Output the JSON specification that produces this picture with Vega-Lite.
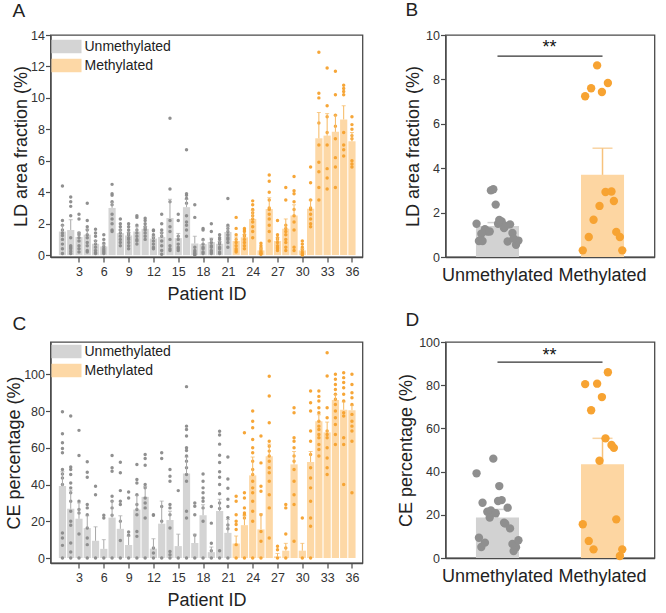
{
"$schema":"https://vega.github.io/schema/vega-lite/v6.json",
"background":"white",
"padding":{"left":4.5,"top":0,"right":5,"bottom":5},
"config":{
 "font":"Liberation Sans",
 "view":{"stroke":"#4a4a4a","strokeWidth":1.3},
 "axis":{"domainColor":"#4a4a4a","domainWidth":1.3,"tickColor":"#4a4a4a","tickSize":5,"tickWidth":1.2,"tickCount":50,"grid":false,"labelFont":"Liberation Sans","labelFontSize":12.5,"labelColor":"#333","labelFlush":false,"labelOverlap":false,"labelPadding":1,"titleFont":"Liberation Sans","titleFontSize":18,"titleFontWeight":"normal","titleColor":"#222"},
 "title":{"fontSize":19,"fontWeight":"normal","anchor":"start","frame":"group","color":"#222","baseline":"alphabetic","font":"Liberation Sans"},
 "legend":{"labelFont":"Liberation Sans","labelFontSize":14,"labelColor":"#222"}
},
"datasets":{
"la":[
{"p":1,"g":"Unmethylated","m":1.5,"hi":1.9},{"p":2,"g":"Unmethylated","m":1.6,"hi":2.25},{"p":3,"g":"Unmethylated","m":1.15,"hi":1.45},{"p":4,"g":"Unmethylated","m":1.3,"hi":1.65},{"p":5,"g":"Unmethylated","m":0.72,"hi":0.92},{"p":6,"g":"Unmethylated","m":0.55,"hi":0.7},{"p":7,"g":"Unmethylated","m":3.0,"hi":3.35},{"p":8,"g":"Unmethylated","m":1.4,"hi":1.6},{"p":9,"g":"Unmethylated","m":1.25,"hi":1.45},{"p":10,"g":"Unmethylated","m":1.5,"hi":1.8},{"p":11,"g":"Unmethylated","m":1.67,"hi":1.82},{"p":12,"g":"Unmethylated","m":1.05,"hi":1.2},{"p":13,"g":"Unmethylated","m":1.15,"hi":1.45},{"p":14,"g":"Unmethylated","m":2.36,"hi":3.55},{"p":15,"g":"Unmethylated","m":1.08,"hi":1.38},{"p":16,"g":"Unmethylated","m":3.05,"hi":3.55},{"p":17,"g":"Unmethylated","m":0.74,"hi":1.2},{"p":18,"g":"Unmethylated","m":0.7,"hi":0.95},{"p":19,"g":"Unmethylated","m":0.83,"hi":1.08},{"p":20,"g":"Unmethylated","m":0.72,"hi":0.87},{"p":21,"g":"Unmethylated","m":1.47,"hi":1.82},
{"p":22,"g":"Methylated","m":0.9,"hi":1.15},{"p":23,"g":"Methylated","m":1.13,"hi":1.3},{"p":24,"g":"Methylated","m":2.3,"hi":2.85},{"p":25,"g":"Methylated","m":0.3,"hi":0.45},{"p":26,"g":"Methylated","m":2.93,"hi":3.65},{"p":27,"g":"Methylated","m":0.9,"hi":1.1},{"p":28,"g":"Methylated","m":1.68,"hi":2.3},{"p":29,"g":"Methylated","m":2.52,"hi":3.2},{"p":30,"g":"Methylated","m":0.3,"hi":0.4},{"p":31,"g":"Methylated","m":2.95,"hi":3.5},{"p":32,"g":"Methylated","m":7.43,"hi":9.07},{"p":33,"g":"Methylated","m":7.6,"hi":9.0},{"p":34,"g":"Methylated","m":7.84,"hi":8.9},{"p":35,"g":"Methylated","m":8.63,"hi":9.5},{"p":36,"g":"Methylated","m":7.24,"hi":7.8}
],
"lp":[
{"p":1,"v":4.4},{"p":1,"v":2.2},{"p":1,"v":1.9},{"p":1,"v":1.6},{"p":1,"v":1.4},{"p":1,"v":1.25},{"p":1,"v":1.0},{"p":1,"v":0.7},{"p":1,"v":0.4},{"p":1,"v":0.1},
{"p":2,"v":3.7},{"p":2,"v":3.4},{"p":2,"v":3.1},{"p":2,"v":2.5},{"p":2,"v":1.1},{"p":2,"v":0.6},{"p":2,"v":0.5},{"p":2,"v":0.4},{"p":2,"v":0.25},{"p":2,"v":0.1},
{"p":3,"v":2.6},{"p":3,"v":2.3},{"p":3,"v":1.4},{"p":3,"v":1.3},{"p":3,"v":1.1},{"p":3,"v":0.9},{"p":3,"v":0.6},{"p":3,"v":0.4},{"p":3,"v":0.2},
{"p":4,"v":3.3},{"p":4,"v":2.2},{"p":4,"v":1.8},{"p":4,"v":1.6},{"p":4,"v":1.3},{"p":4,"v":1.1},{"p":4,"v":0.8},{"p":4,"v":0.6},{"p":4,"v":0.3},{"p":4,"v":0.2},
{"p":5,"v":1.65},{"p":5,"v":1.4},{"p":5,"v":1.2},{"p":5,"v":0.9},{"p":5,"v":0.7},{"p":5,"v":0.5},{"p":5,"v":0.3},{"p":5,"v":0.15},{"p":5,"v":0.1},
{"p":6,"v":1.3},{"p":6,"v":1.0},{"p":6,"v":0.75},{"p":6,"v":0.55},{"p":6,"v":0.4},{"p":6,"v":0.3},{"p":6,"v":0.2},{"p":6,"v":0.1},
{"p":7,"v":4.5},{"p":7,"v":3.9},{"p":7,"v":3.8},{"p":7,"v":3.4},{"p":7,"v":3.2},{"p":7,"v":2.6},{"p":7,"v":2.3},{"p":7,"v":2.0},{"p":7,"v":1.6},{"p":7,"v":1.5},
{"p":8,"v":2.3},{"p":8,"v":2.0},{"p":8,"v":1.8},{"p":8,"v":1.6},{"p":8,"v":1.4},{"p":8,"v":1.2},{"p":8,"v":1.0},{"p":8,"v":0.8},{"p":8,"v":0.6},
{"p":9,"v":2.0},{"p":9,"v":1.8},{"p":9,"v":1.6},{"p":9,"v":1.4},{"p":9,"v":1.3},{"p":9,"v":1.1},{"p":9,"v":1.0},{"p":9,"v":0.8},{"p":9,"v":0.6},{"p":9,"v":0.4},
{"p":10,"v":2.5},{"p":10,"v":2.4},{"p":10,"v":1.9},{"p":10,"v":1.6},{"p":10,"v":1.4},{"p":10,"v":1.2},{"p":10,"v":1.0},{"p":10,"v":0.9},{"p":10,"v":0.7},
{"p":11,"v":2.35},{"p":11,"v":2.2},{"p":11,"v":2.0},{"p":11,"v":1.8},{"p":11,"v":1.7},{"p":11,"v":1.6},{"p":11,"v":1.4},{"p":11,"v":1.2},{"p":11,"v":1.0},
{"p":12,"v":1.6},{"p":12,"v":1.55},{"p":12,"v":1.3},{"p":12,"v":1.1},{"p":12,"v":0.9},{"p":12,"v":0.7},{"p":12,"v":0.5},{"p":12,"v":0.4},
{"p":13,"v":2.6},{"p":13,"v":2.0},{"p":13,"v":1.6},{"p":13,"v":1.4},{"p":13,"v":1.2},{"p":13,"v":0.9},{"p":13,"v":0.6},{"p":13,"v":0.3},{"p":13,"v":0.05},
{"p":14,"v":8.7},{"p":14,"v":4.2},{"p":14,"v":3.4},{"p":14,"v":2.2},{"p":14,"v":1.8},{"p":14,"v":1.5},{"p":14,"v":1.0},{"p":14,"v":0.6},{"p":14,"v":0.4},{"p":14,"v":0.3},
{"p":15,"v":2.6},{"p":15,"v":2.2},{"p":15,"v":1.2},{"p":15,"v":1.0},{"p":15,"v":0.7},{"p":15,"v":0.5},{"p":15,"v":0.4},{"p":15,"v":0.3},
{"p":16,"v":6.7},{"p":16,"v":3.9},{"p":16,"v":3.8},{"p":16,"v":3.6},{"p":16,"v":3.3},{"p":16,"v":2.5},{"p":16,"v":2.1},{"p":16,"v":1.9},{"p":16,"v":1.6},{"p":16,"v":1.2},
{"p":17,"v":3.2},{"p":17,"v":2.4},{"p":17,"v":0.5},{"p":17,"v":0.3},{"p":17,"v":0.2},{"p":17,"v":0.1},{"p":17,"v":0.05},{"p":17,"v":0},
{"p":18,"v":1.7},{"p":18,"v":1.6},{"p":18,"v":1.0},{"p":18,"v":0.7},{"p":18,"v":0.5},{"p":18,"v":0.4},{"p":18,"v":0.2},{"p":18,"v":0.1},
{"p":19,"v":2.0},{"p":19,"v":1.5},{"p":19,"v":1.0},{"p":19,"v":0.8},{"p":19,"v":0.6},{"p":19,"v":0.5},{"p":19,"v":0.3},{"p":19,"v":0.2},{"p":19,"v":0.1},
{"p":20,"v":1.3},{"p":20,"v":1.1},{"p":20,"v":1.0},{"p":20,"v":0.8},{"p":20,"v":0.7},{"p":20,"v":0.5},{"p":20,"v":0.4},{"p":20,"v":0.2},{"p":20,"v":0.1},
{"p":21,"v":3.6},{"p":21,"v":1.9},{"p":21,"v":1.7},{"p":21,"v":1.5},{"p":21,"v":1.3},{"p":21,"v":1.1},{"p":21,"v":1.0},{"p":21,"v":0.8},{"p":21,"v":0.5},
{"p":22,"v":2.4},{"p":22,"v":1.7},{"p":22,"v":1.3},{"p":22,"v":1.0},{"p":22,"v":0.8},{"p":22,"v":0.6},{"p":22,"v":0.4},{"p":22,"v":0.3},{"p":22,"v":0.2},
{"p":23,"v":1.7},{"p":23,"v":1.6},{"p":23,"v":1.5},{"p":23,"v":1.3},{"p":23,"v":1.2},{"p":23,"v":1.0},{"p":23,"v":0.8},{"p":23,"v":0.6},{"p":23,"v":0.4},
{"p":24,"v":3.45},{"p":24,"v":3.2},{"p":24,"v":2.9},{"p":24,"v":2.7},{"p":24,"v":2.5},{"p":24,"v":2.3},{"p":24,"v":2.1},{"p":24,"v":1.8},{"p":24,"v":1.5},{"p":24,"v":1.1},
{"p":25,"v":0.75},{"p":25,"v":0.6},{"p":25,"v":0.45},{"p":25,"v":0.35},{"p":25,"v":0.25},{"p":25,"v":0.15},{"p":25,"v":0.1},{"p":25,"v":0.05},
{"p":26,"v":5.1},{"p":26,"v":4.7},{"p":26,"v":4.0},{"p":26,"v":3.5},{"p":26,"v":3.0},{"p":26,"v":2.9},{"p":26,"v":2.6},{"p":26,"v":2.3},{"p":26,"v":1.9},{"p":26,"v":1.5},{"p":26,"v":0.9},
{"p":27,"v":2.2},{"p":27,"v":1.3},{"p":27,"v":1.1},{"p":27,"v":1.0},{"p":27,"v":0.8},{"p":27,"v":0.6},{"p":27,"v":0.5},{"p":27,"v":0.4},{"p":27,"v":0.3},
{"p":28,"v":4.3},{"p":28,"v":3.5},{"p":28,"v":1.9},{"p":28,"v":1.7},{"p":28,"v":1.5},{"p":28,"v":1.3},{"p":28,"v":1.0},{"p":28,"v":0.8},{"p":28,"v":0.5},{"p":28,"v":0.3},
{"p":29,"v":5.0},{"p":29,"v":4.1},{"p":29,"v":3.9},{"p":29,"v":3.4},{"p":29,"v":2.9},{"p":29,"v":2.5},{"p":29,"v":2.1},{"p":29,"v":1.6},{"p":29,"v":0.5},{"p":29,"v":0.3},
{"p":30,"v":0.9},{"p":30,"v":0.7},{"p":30,"v":0.5},{"p":30,"v":0.35},{"p":30,"v":0.2},{"p":30,"v":0.1},{"p":30,"v":0.05},{"p":30,"v":0},
{"p":31,"v":5.6},{"p":31,"v":4.6},{"p":31,"v":3.5},{"p":31,"v":3.0},{"p":31,"v":2.9},{"p":31,"v":2.6},{"p":31,"v":2.3},{"p":31,"v":2.0},{"p":31,"v":1.8},
{"p":32,"v":12.9},{"p":32,"v":10.3},{"p":32,"v":10.0},{"p":32,"v":8.4},{"p":32,"v":7.0},{"p":32,"v":5.9},{"p":32,"v":5.3},{"p":32,"v":4.3},{"p":32,"v":3.5},
{"p":33,"v":11.9},{"p":33,"v":9.5},{"p":33,"v":8.8},{"p":33,"v":7.8},{"p":33,"v":7.0},{"p":33,"v":5.5},{"p":33,"v":4.9},{"p":33,"v":4.2},
{"p":34,"v":11.7},{"p":34,"v":10.2},{"p":34,"v":8.9},{"p":34,"v":8.2},{"p":34,"v":7.4},{"p":34,"v":6.2},{"p":34,"v":5.6},{"p":34,"v":4.3},
{"p":35,"v":10.8},{"p":35,"v":10.6},{"p":35,"v":10.4},{"p":35,"v":10.2},{"p":35,"v":7.8},{"p":35,"v":7.0},{"p":35,"v":6.7},{"p":35,"v":6.3},
{"p":36,"v":8.8},{"p":36,"v":8.3},{"p":36,"v":8.0},{"p":36,"v":7.6},{"p":36,"v":7.4},{"p":36,"v":6.0},{"p":36,"v":5.8},{"p":36,"v":5.6}
],
"bs":[{"g":"Unmethylated","m":1.4,"hi":1.55},{"g":"Methylated","m":3.7,"hi":4.9}],
"sig1":[{"a":"Unmethylated","b":"Methylated","y":9.05,"ty":9.4,"t":"**"}],
"ca":[
{"p":1,"g":"Unmethylated","m":39.2,"hi":47},{"p":2,"g":"Unmethylated","m":26.8,"hi":37},{"p":3,"g":"Unmethylated","m":21.4,"hi":30},{"p":4,"g":"Unmethylated","m":16.3,"hi":23},{"p":5,"g":"Unmethylated","m":9.4,"hi":17},{"p":6,"g":"Unmethylated","m":5,"hi":10},{"p":7,"g":"Unmethylated","m":22,"hi":31},{"p":8,"g":"Unmethylated","m":15.9,"hi":23},{"p":9,"g":"Unmethylated","m":7.1,"hi":12},{"p":10,"g":"Unmethylated","m":26.4,"hi":34},{"p":11,"g":"Unmethylated","m":33.3,"hi":39},{"p":12,"g":"Unmethylated","m":5.1,"hi":10.5},{"p":13,"g":"Unmethylated","m":18.7,"hi":31},{"p":14,"g":"Unmethylated","m":20.7,"hi":25.5},{"p":15,"g":"Unmethylated","m":6.5,"hi":13},{"p":16,"g":"Unmethylated","m":46,"hi":55},{"p":17,"g":"Unmethylated","m":8.2,"hi":13},{"p":18,"g":"Unmethylated","m":23.3,"hi":29},{"p":19,"g":"Unmethylated","m":3.2,"hi":6},{"p":20,"g":"Unmethylated","m":25.6,"hi":32},{"p":21,"g":"Unmethylated","m":13.7,"hi":21},
{"p":22,"g":"Methylated","m":7.9,"hi":12},{"p":23,"g":"Methylated","m":17.9,"hi":23},{"p":24,"g":"Methylated","m":45,"hi":55},{"p":25,"g":"Methylated","m":15.6,"hi":24},{"p":26,"g":"Methylated","m":55.4,"hi":62},{"p":27,"g":"Methylated","m":0.9,"hi":2.5},{"p":28,"g":"Methylated","m":4,"hi":8},{"p":29,"g":"Methylated","m":51,"hi":58},{"p":30,"g":"Methylated","m":4,"hi":8},{"p":31,"g":"Methylated","m":52.3,"hi":58},{"p":32,"g":"Methylated","m":74.5,"hi":78},{"p":33,"g":"Methylated","m":68.4,"hi":74},{"p":34,"g":"Methylated","m":86,"hi":89},{"p":35,"g":"Methylated","m":80.7,"hi":85},{"p":36,"g":"Methylated","m":80.5,"hi":83}
],
"cp":[
{"p":1,"v":79.6},{"p":1,"v":67.6},{"p":1,"v":62.7},{"p":1,"v":59.6},{"p":1,"v":57.3},{"p":1,"v":48.2},{"p":1,"v":45.8},{"p":1,"v":43.6},{"p":1,"v":40},{"p":1,"v":13.6},{"p":1,"v":10.9},{"p":1,"v":6.9},{"p":1,"v":0},
{"p":2,"v":77.3},{"p":2,"v":49.5},{"p":2,"v":48.2},{"p":2,"v":45.5},{"p":2,"v":40.9},{"p":2,"v":38.2},{"p":2,"v":35.5},{"p":2,"v":30.9},{"p":2,"v":25.5},{"p":2,"v":20},{"p":2,"v":17.8},{"p":2,"v":8.2},{"p":2,"v":3.3},{"p":2,"v":0},
{"p":3,"v":69.5},{"p":3,"v":55.8},{"p":3,"v":30.9},{"p":3,"v":26.4},{"p":3,"v":24.5},{"p":3,"v":13.1},{"p":3,"v":0},
{"p":4,"v":52.4},{"p":4,"v":46.7},{"p":4,"v":44},{"p":4,"v":29.1},{"p":4,"v":27.3},{"p":4,"v":23.6},{"p":4,"v":16.4},{"p":4,"v":10.9},{"p":4,"v":7.3},{"p":4,"v":0},
{"p":5,"v":39.1},{"p":5,"v":34.5},{"p":5,"v":0},
{"p":6,"v":23.3},{"p":6,"v":21.8},{"p":6,"v":0},
{"p":7,"v":55.8},{"p":7,"v":49.1},{"p":7,"v":47.3},{"p":7,"v":33.6},{"p":7,"v":30.9},{"p":7,"v":27.3},{"p":7,"v":23.3},{"p":7,"v":0},
{"p":8,"v":52.2},{"p":8,"v":46.4},{"p":8,"v":36.7},{"p":8,"v":30.9},{"p":8,"v":29.1},{"p":8,"v":20},{"p":8,"v":9.6},{"p":8,"v":0},
{"p":9,"v":36},{"p":9,"v":32.7},{"p":9,"v":14.2},{"p":9,"v":12.4},{"p":9,"v":0},
{"p":10,"v":50.9},{"p":10,"v":42.7},{"p":10,"v":40.9},{"p":10,"v":34.5},{"p":10,"v":29.1},{"p":10,"v":26.4},{"p":10,"v":23.6},{"p":10,"v":14.5},{"p":10,"v":11.8},{"p":10,"v":0},
{"p":11,"v":56.4},{"p":11,"v":54.2},{"p":11,"v":50.5},{"p":11,"v":40},{"p":11,"v":38.2},{"p":11,"v":32.7},{"p":11,"v":30},{"p":11,"v":27.3},{"p":11,"v":21.8},{"p":11,"v":0},
{"p":12,"v":23.6},{"p":12,"v":23.3},{"p":12,"v":5.5},{"p":12,"v":2.7},{"p":12,"v":0},
{"p":13,"v":57.3},{"p":13,"v":54.2},{"p":13,"v":28},{"p":13,"v":20},{"p":13,"v":0},
{"p":14,"v":48.2},{"p":14,"v":44.5},{"p":14,"v":41.8},{"p":14,"v":29.1},{"p":14,"v":27.3},{"p":14,"v":23.6},{"p":14,"v":16.4},{"p":14,"v":3.6},{"p":14,"v":1.8},{"p":14,"v":0},
{"p":15,"v":36.7},{"p":15,"v":0},
{"p":16,"v":93.3},{"p":16,"v":71.8},{"p":16,"v":70},{"p":16,"v":66.4},{"p":16,"v":60},{"p":16,"v":58.5},{"p":16,"v":55.5},{"p":16,"v":52.7},{"p":16,"v":49.1},{"p":16,"v":45.5},{"p":16,"v":41.8},{"p":16,"v":25.5},{"p":16,"v":21.8},{"p":16,"v":0},
{"p":17,"v":30},{"p":17,"v":28.2},{"p":17,"v":23.6},{"p":17,"v":12.4},{"p":17,"v":0},
{"p":18,"v":45.8},{"p":18,"v":41.8},{"p":18,"v":38.2},{"p":18,"v":35.5},{"p":18,"v":32.7},{"p":18,"v":30.9},{"p":18,"v":27.3},{"p":18,"v":20},{"p":18,"v":0},
{"p":19,"v":28},{"p":19,"v":19},{"p":19,"v":8},{"p":19,"v":4},{"p":19,"v":0},
{"p":20,"v":69},{"p":20,"v":67},{"p":20,"v":62},{"p":20,"v":56},{"p":20,"v":52},{"p":20,"v":47},{"p":20,"v":44},{"p":20,"v":40},{"p":20,"v":35},{"p":20,"v":30},{"p":20,"v":27},{"p":20,"v":4},{"p":20,"v":0},
{"p":21,"v":55},{"p":21,"v":43},{"p":21,"v":38},{"p":21,"v":32},{"p":21,"v":28},{"p":21,"v":22},{"p":21,"v":18},{"p":21,"v":16},{"p":21,"v":0},
{"p":22,"v":33.6},{"p":22,"v":30.9},{"p":22,"v":23.6},{"p":22,"v":20},{"p":22,"v":18.2},{"p":22,"v":15.5},{"p":22,"v":7.3},{"p":22,"v":0},
{"p":23,"v":68.2},{"p":23,"v":35.5},{"p":23,"v":32.7},{"p":23,"v":27.3},{"p":23,"v":24.5},{"p":23,"v":23.6},{"p":23,"v":21.8},{"p":23,"v":0},
{"p":24,"v":80},{"p":24,"v":74.5},{"p":24,"v":70.9},{"p":24,"v":64.5},{"p":24,"v":60},{"p":24,"v":57.3},{"p":24,"v":52.7},{"p":24,"v":48.2},{"p":24,"v":45.5},{"p":24,"v":41.8},{"p":24,"v":38.2},{"p":24,"v":35.5},{"p":24,"v":30.9},{"p":24,"v":25.5},{"p":24,"v":20},{"p":24,"v":0},
{"p":25,"v":66.4},{"p":25,"v":51.8},{"p":25,"v":39.1},{"p":25,"v":36.4},{"p":25,"v":23.6},{"p":25,"v":14.5},{"p":25,"v":9.1},{"p":25,"v":0},
{"p":26,"v":99},{"p":26,"v":88.2},{"p":26,"v":73.6},{"p":26,"v":63.6},{"p":26,"v":60.9},{"p":26,"v":58.2},{"p":26,"v":55.5},{"p":26,"v":52.7},{"p":26,"v":49.1},{"p":26,"v":46.4},{"p":26,"v":41.8},{"p":26,"v":34.5},{"p":26,"v":27.3},{"p":26,"v":10.9},
{"p":27,"v":6.4},{"p":27,"v":4.5},{"p":27,"v":0},
{"p":28,"v":29.1},{"p":28,"v":27.3},{"p":28,"v":13.1},{"p":28,"v":5.5},{"p":28,"v":0},
{"p":29,"v":81.8},{"p":29,"v":79.1},{"p":29,"v":65.5},{"p":29,"v":63.6},{"p":29,"v":60},{"p":29,"v":55.5},{"p":29,"v":52.7},{"p":29,"v":48.2},{"p":29,"v":41.8},{"p":29,"v":34.5},{"p":29,"v":29.1},{"p":29,"v":9.1},
{"p":30,"v":21.8},{"p":30,"v":0},
{"p":31,"v":90.9},{"p":31,"v":84.5},{"p":31,"v":80},{"p":31,"v":69.1},{"p":31,"v":63.6},{"p":31,"v":56.4},{"p":31,"v":49.1},{"p":31,"v":43.6},{"p":31,"v":38.2},{"p":31,"v":30.9},{"p":31,"v":21.8},{"p":31,"v":17.3},{"p":31,"v":0},
{"p":32,"v":90.9},{"p":32,"v":88},{"p":32,"v":85.5},{"p":32,"v":81.8},{"p":32,"v":79.1},{"p":32,"v":74.5},{"p":32,"v":71.8},{"p":32,"v":70},{"p":32,"v":67.3},{"p":32,"v":65.5},{"p":32,"v":61.8},{"p":32,"v":59.1},{"p":32,"v":55.5},
{"p":33,"v":111.8},{"p":33,"v":99.1},{"p":33,"v":81.8},{"p":33,"v":76.4},{"p":33,"v":69.1},{"p":33,"v":67.3},{"p":33,"v":65.5},{"p":33,"v":60},{"p":33,"v":54.5},{"p":33,"v":49.1},{"p":33,"v":45.5},
{"p":34,"v":100},{"p":34,"v":97.3},{"p":34,"v":94.5},{"p":34,"v":91.8},{"p":34,"v":89.1},{"p":34,"v":86.4},{"p":34,"v":83.6},{"p":34,"v":80},{"p":34,"v":76.4},{"p":34,"v":72.7},{"p":34,"v":67.3},{"p":34,"v":61.8},
{"p":35,"v":100.9},{"p":35,"v":98.2},{"p":35,"v":95.5},{"p":35,"v":92.7},{"p":35,"v":89.1},{"p":35,"v":85.5},{"p":35,"v":79.1},{"p":35,"v":77.3},{"p":35,"v":65.5},{"p":35,"v":61.8},{"p":35,"v":40},
{"p":36,"v":100},{"p":36,"v":94.5},{"p":36,"v":90},{"p":36,"v":87.3},{"p":36,"v":83.6},{"p":36,"v":78.2},{"p":36,"v":74.5},{"p":36,"v":71.8},{"p":36,"v":69.1},{"p":36,"v":63.6},{"p":36,"v":35.5}
],
"ds":[{"g":"Unmethylated","m":18.7,"hi":22.5},{"g":"Methylated","m":43.4,"hi":55.4}],
"sig2":[{"a":"Unmethylated","b":"Methylated","y":90.7,"ty":93.5,"t":"**"}]
},
"columns":2,
"spacing":{"column":83,"row":85},
"bounds":"flush",
"resolve":{"scale":{"color":"independent"},"legend":{"color":"independent"}},
"concat":[
{
 "width":312,"height":222,
 "title":{"text":"A","dx":-38,"offset":8},
 "layer":[
  {"data":{"name":"la"},"mark":{"type":"bar","size":7.2},
   "encoding":{
    "x":{"field":"p","type":"quantitative","scale":{"domain":[0.16,36.67],"nice":false,"zero":false},"axis":{"values":[3,6,9,12,15,18,21,24,27,30,33,36],"format":"d","title":"Patient ID","labelPadding":3,"titlePadding":8}},
    "y":{"field":"m","type":"quantitative","scale":{"domain":[-0.12,14],"nice":false,"zero":false},"axis":{"values":[0,2,4,6,8,10,12,14],"format":"d","title":"LD area fraction (%)","titlePadding":0}},
    "y2":{"datum":0},
    "color":{"field":"g","type":"nominal","scale":{"domain":["Unmethylated","Methylated"],"range":["#d4d4d4","#fdd8a6"]},
     "legend":{"orient":"none","legendX":6.5,"legendY":2,"title":null,"padding":0,"symbolType":"M-1.58,-0.71H1.58V0.71H-1.58Z","symbolSize":361,"symbolStrokeWidth":0,"symbolOpacity":1,"labelOffset":8.5,"rowPadding":2}}
   }},
  {"data":{"name":"lp"},"mark":{"type":"circle","size":12,"opacity":0.95},
   "encoding":{"x":{"field":"p","type":"quantitative"},"y":{"field":"v","type":"quantitative","title":"LD area fraction (%)"},
    "color":{"condition":{"test":"datum.p<=21","value":"#8a8a8a"},"value":"#f5a12d"}}},
  {"data":{"name":"la"},"mark":{"type":"rule","strokeWidth":1},
   "encoding":{"x":{"field":"p","type":"quantitative"},"y":{"field":"m","type":"quantitative","title":"LD area fraction (%)"},"y2":{"field":"hi"},
    "color":{"condition":{"test":"datum.p<=21","value":"#a8a8a8"},"value":"#f6b860"}}},
  {"data":{"name":"la"},"mark":{"type":"tick","orient":"horizontal","size":4,"thickness":1},
   "encoding":{"x":{"field":"p","type":"quantitative"},"y":{"field":"hi","type":"quantitative","title":"LD area fraction (%)"},
    "color":{"condition":{"test":"datum.p<=21","value":"#a8a8a8"},"value":"#f6b860"}}}
 ]
},
{
 "width":209,"height":222,
 "title":{"text":"B","dx":-40,"offset":9},
 "resolve":{"scale":{"xOffset":"independent"}},
 "layer":[
  {"data":{"name":"bs"},"mark":{"type":"bar","width":{"band":1}},
   "encoding":{
    "x":{"field":"g","type":"nominal","sort":null,"scale":{"type":"band","domain":["Unmethylated","Methylated"],"paddingInner":0.59,"paddingOuter":0.29},"axis":{"title":null,"ticks":false,"labelFontSize":18,"labelAngle":0,"labelPadding":9,"labelColor":"#222"}},
    "y":{"field":"m","type":"quantitative","scale":{"domain":[0,10],"nice":false},"axis":{"values":[0,2,4,6,8,10],"format":"d","title":"LD area fraction (%)","titlePadding":3}},
    "color":{"condition":{"test":"datum.g==='Unmethylated'","value":"#d2d2d2"},"value":"#fdd6a2"}
   }},
  {"data":{"name":"bs"},"mark":{"type":"rule","strokeWidth":1.5},
   "encoding":{"x":{"field":"g","type":"nominal","bandPosition":0.5},"y":{"field":"m","type":"quantitative","title":"LD area fraction (%)"},"y2":{"field":"hi"},
    "color":{"condition":{"test":"datum.g==='Unmethylated'","value":"#bdbdbd"},"value":"#f7c27c"}}},
  {"data":{"name":"bs"},"mark":{"type":"tick","orient":"horizontal","size":20,"thickness":1.5},
   "encoding":{"x":{"field":"g","type":"nominal","bandPosition":0.5},"y":{"field":"hi","type":"quantitative","title":"LD area fraction (%)"},
    "color":{"condition":{"test":"datum.g==='Unmethylated'","value":"#bdbdbd"},"value":"#f7c27c"}}},
  {"data":{"name":"la"},"mark":{"type":"circle","size":70,"opacity":1},
   "encoding":{"x":{"field":"g","type":"nominal"},
    "xOffset":{"field":"p","type":"nominal","scale":{"domain":[1,25,5,36,12,20,22,9,33,3,28,13,7,35,16,24,14,32,10,11,26,2,34,4,8,31,18,29,21,23,15,19,27,6,30,17]}},
    "y":{"field":"m","type":"quantitative","title":"LD area fraction (%)"},
    "color":{"condition":{"test":"datum.p<=21","value":"#8f8f8f"},"value":"#f7a332"}}},
  {"data":{"name":"sig1"},"mark":{"type":"rule","strokeWidth":1.2,"color":"#333"},
   "encoding":{"x":{"field":"a","type":"nominal","bandPosition":0.5},"x2":{"field":"b","bandPosition":0.5},"y":{"field":"y","type":"quantitative","title":"LD area fraction (%)"}}},
  {"data":{"name":"sig1"},"mark":{"type":"text","dx":52,"fontSize":18,"baseline":"middle","align":"center","color":"#111"},
   "encoding":{"x":{"field":"a","type":"nominal","bandPosition":0.5},"y":{"field":"ty","type":"quantitative","title":"LD area fraction (%)"},"text":{"field":"t"}}}
 ]
},
{
 "width":312,"height":221,
 "title":{"text":"C","dx":-38,"offset":8},
 "layer":[
  {"data":{"name":"ca"},"mark":{"type":"bar","size":7.2},
   "encoding":{
    "x":{"field":"p","type":"quantitative","scale":{"domain":[0.16,36.67],"nice":false,"zero":false},"axis":{"values":[3,6,9,12,15,18,21,24,27,30,33,36],"format":"d","title":"Patient ID","labelPadding":3,"titlePadding":8}},
    "y":{"field":"m","type":"quantitative","scale":{"domain":[-2.7,117.6],"nice":false,"zero":false},"axis":{"values":[0,20,40,60,80,100],"format":"d","title":"CE percentage (%)","titlePadding":0}},
    "y2":{"datum":0},
    "color":{"field":"g","type":"nominal","scale":{"domain":["Unmethylated","Methylated"],"range":["#d4d4d4","#fdd8a6"]},
     "legend":{"orient":"none","legendX":6.5,"legendY":0,"title":null,"padding":0,"symbolType":"M-1.58,-0.71H1.58V0.71H-1.58Z","symbolSize":361,"symbolStrokeWidth":0,"symbolOpacity":1,"labelOffset":8.5,"rowPadding":2}}
   }},
  {"data":{"name":"cp"},"mark":{"type":"circle","size":12,"opacity":0.95},
   "encoding":{"x":{"field":"p","type":"quantitative"},"y":{"field":"v","type":"quantitative","title":"CE percentage (%)"},
    "color":{"condition":{"test":"datum.p<=21","value":"#8a8a8a"},"value":"#f5a12d"}}},
  {"data":{"name":"ca"},"mark":{"type":"rule","strokeWidth":1},
   "encoding":{"x":{"field":"p","type":"quantitative"},"y":{"field":"m","type":"quantitative","title":"CE percentage (%)"},"y2":{"field":"hi"},
    "color":{"condition":{"test":"datum.p<=21","value":"#a8a8a8"},"value":"#f6b860"}}},
  {"data":{"name":"ca"},"mark":{"type":"tick","orient":"horizontal","size":4,"thickness":1},
   "encoding":{"x":{"field":"p","type":"quantitative"},"y":{"field":"hi","type":"quantitative","title":"CE percentage (%)"},
    "color":{"condition":{"test":"datum.p<=21","value":"#a8a8a8"},"value":"#f6b860"}}}
 ]
},
{
 "width":209,"height":216,
 "title":{"text":"D","dx":-40,"offset":6},
 "resolve":{"scale":{"xOffset":"independent"}},
 "layer":[
  {"data":{"name":"ds"},"mark":{"type":"bar","width":{"band":1}},
   "encoding":{
    "x":{"field":"g","type":"nominal","sort":null,"scale":{"type":"band","domain":["Unmethylated","Methylated"],"paddingInner":0.59,"paddingOuter":0.29},"axis":{"title":null,"ticks":false,"labelFontSize":18,"labelAngle":0,"labelPadding":9,"labelColor":"#222"}},
    "y":{"field":"m","type":"quantitative","scale":{"domain":[0,100],"nice":false},"axis":{"values":[0,20,40,60,80,100],"format":"d","title":"CE percentage (%)","titlePadding":3}},
    "color":{"condition":{"test":"datum.g==='Unmethylated'","value":"#d2d2d2"},"value":"#fdd6a2"}
   }},
  {"data":{"name":"ds"},"mark":{"type":"rule","strokeWidth":1.5},
   "encoding":{"x":{"field":"g","type":"nominal","bandPosition":0.5},"y":{"field":"m","type":"quantitative","title":"CE percentage (%)"},"y2":{"field":"hi"},
    "color":{"condition":{"test":"datum.g==='Unmethylated'","value":"#bdbdbd"},"value":"#f7c27c"}}},
  {"data":{"name":"ds"},"mark":{"type":"tick","orient":"horizontal","size":20,"thickness":1.5},
   "encoding":{"x":{"field":"g","type":"nominal","bandPosition":0.5},"y":{"field":"hi","type":"quantitative","title":"CE percentage (%)"},
    "color":{"condition":{"test":"datum.g==='Unmethylated'","value":"#bdbdbd"},"value":"#f7c27c"}}},
  {"data":{"name":"ca"},"mark":{"type":"circle","size":70,"opacity":1},
   "encoding":{"x":{"field":"g","type":"nominal"},
    "xOffset":{"field":"p","type":"nominal","scale":{"domain":[1,25,5,36,12,20,22,9,33,3,28,13,7,35,16,24,14,32,10,11,26,2,34,4,8,31,18,29,21,23,15,19,27,6,30,17]}},
    "y":{"field":"m","type":"quantitative","title":"CE percentage (%)"},
    "color":{"condition":{"test":"datum.p<=21","value":"#8f8f8f"},"value":"#f7a332"}}},
  {"data":{"name":"sig2"},"mark":{"type":"rule","strokeWidth":1.2,"color":"#333"},
   "encoding":{"x":{"field":"a","type":"nominal","bandPosition":0.5},"x2":{"field":"b","bandPosition":0.5},"y":{"field":"y","type":"quantitative","title":"CE percentage (%)"}}},
  {"data":{"name":"sig2"},"mark":{"type":"text","dx":52,"fontSize":18,"baseline":"middle","align":"center","color":"#111"},
   "encoding":{"x":{"field":"a","type":"nominal","bandPosition":0.5},"y":{"field":"ty","type":"quantitative","title":"CE percentage (%)"},"text":{"field":"t"}}}
 ]
}
]
}
